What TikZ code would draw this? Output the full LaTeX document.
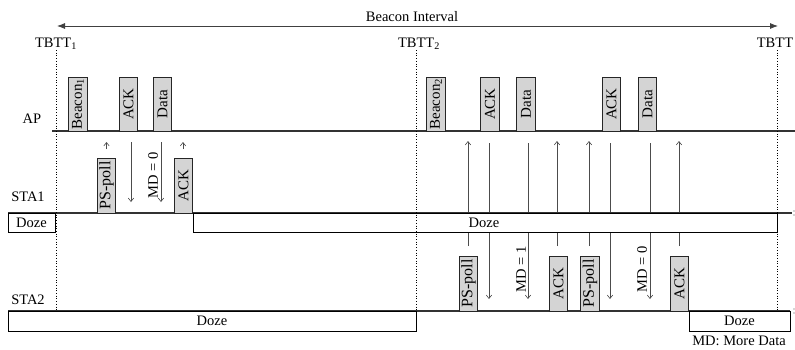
\documentclass[tikz,border=0pt]{standalone}
\usepackage{fontspec}
\setmainfont{Liberation Serif}
\usetikzlibrary{arrows.meta}
\begin{document}
\begin{tikzpicture}[x=1pt,y=-1pt,
  every node/.style={font=\fontsize{14.5}{16}\selectfont, inner sep=0pt},
  pkt/.style={draw=black!85, fill=black!17, line width=0.9pt, rotate=90,
    minimum width=54pt, minimum height=18.5pt, inner sep=0pt, font=\fontsize{15}{16}\selectfont},
  ps/.style={pkt, font=\fontsize{16}{17}\selectfont},
  dozebox/.style={draw=black, fill=white, line width=0.9pt},
  tl/.style={line width=1.2pt, draw=black!80},
  arr/.style={-{Straight Barb[length=3.5pt,width=5.5pt]}, draw=black!70, line width=0.6pt},
  tbtt/.style={dotted, line width=0.7pt, draw=black},
  lbl/.style={anchor=base},
  mdlbl/.style={rotate=90}
]
\useasboundingbox (0,0) rectangle (795,349);

% beacon interval
\node[lbl] (bi) at (412,21.5) {Beacon Interval};
\coordinate (biL) at (57,26);
\coordinate (biR) at (778,26);
\draw[{Latex[length=8pt,width=6pt]}-{Latex[length=8pt,width=6pt]}, line width=0.8pt, draw=black!75] (biL) -- (biR);

\node[lbl] (t1) at (56,47) {TBTT\textsubscript{1}};
\node[lbl] (t2) at (419,47) {TBTT\textsubscript{2}};
\node[lbl] (t3) at (775,47) {TBTT};

% row labels
\node[lbl] (lap) at (32,123) {AP};
\node[lbl] (lsta1) at (28,201) {STA1};
\node[lbl] (lsta2) at (28,304) {STA2};

% vertical arrows, first half
\draw[arr] (106.5,149) -- (106.5,142);
\draw[arr] (131,142) -- (131,202);
\draw[arr] (161,142) -- (161,202);
\draw[arr] (183,149) -- (183,142);
\node[mdlbl] (md0a) at (153,175) {MD = 0};

% vertical arrows, second half
\foreach \x in {468,557,589,679} \draw[arr] (\x,246) -- (\x,141);
\foreach \x in {489,528,610,650} \draw[arr] (\x,143) -- (\x,299);
\node[mdlbl] (md1) at (521,269) {MD = 1};
\node[mdlbl] (md0b) at (642,269) {MD = 0};

% AP timeline
\draw[tl] (52,131) -- (795,131);
\node[pkt] (b1) at (78,104) {Beacon\textsubscript{1}};
\node[pkt] (ack1) at (128.5,104) {ACK};
\node[pkt] (d1) at (162.5,104) {Data};
\node[pkt] (b2) at (436,104) {Beacon\textsubscript{2}};
\node[pkt] (ack2) at (490,104) {ACK};
\node[pkt] (d2) at (526,104) {Data};
\node[pkt] (ack3) at (611.5,104) {ACK};
\node[pkt] (d3) at (647.5,104) {Data};

% STA1 timeline
\draw[tl] (8,213) -- (792,213);
\draw[dozebox] (8,213) rectangle (55,232);
\node (dz1) at (31.5,222.5) {Doze};
\draw[dozebox] (193,213) rectangle (777,232);
\node (dz2) at (484,222.5) {Doze};
\node[ps, minimum width=55pt] (ps1) at (106.5,185.5) {PS-poll};
\node[pkt, minimum width=55pt] (sack1) at (183.5,185.5) {ACK};

% STA2 timeline
\draw[tl] (8,311) -- (790,311);
\draw[dozebox] (8,311) rectangle (416,331);
\node (dz3) at (212,321) {Doze};
\draw[dozebox] (689,311) rectangle (790,331);
\node (dz4) at (739.5,321) {Doze};
\node[ps, minimum width=55pt] (ps2) at (468.5,283.5) {PS-poll};
\node[pkt, minimum width=55pt] (sack2) at (558.5,283.5) {ACK};
\node[ps, minimum width=55pt] (ps3) at (590,283.5) {PS-poll};
\node[pkt, minimum width=55pt] (sack3) at (679.5,283.5) {ACK};

% small end marks
\foreach \y in {211,215,309,313} \fill[black!70] (794,\y) circle (0.6pt);

% TBTT dotted lines
\draw[tbtt] (56,50) -- (56,311);
\draw[tbtt] (416,50) -- (416,311);
\draw[tbtt] (777,50) -- (777,311);

\node[lbl] (mdnote) at (739,345) {MD: More Data};
\end{tikzpicture}
\end{document}
